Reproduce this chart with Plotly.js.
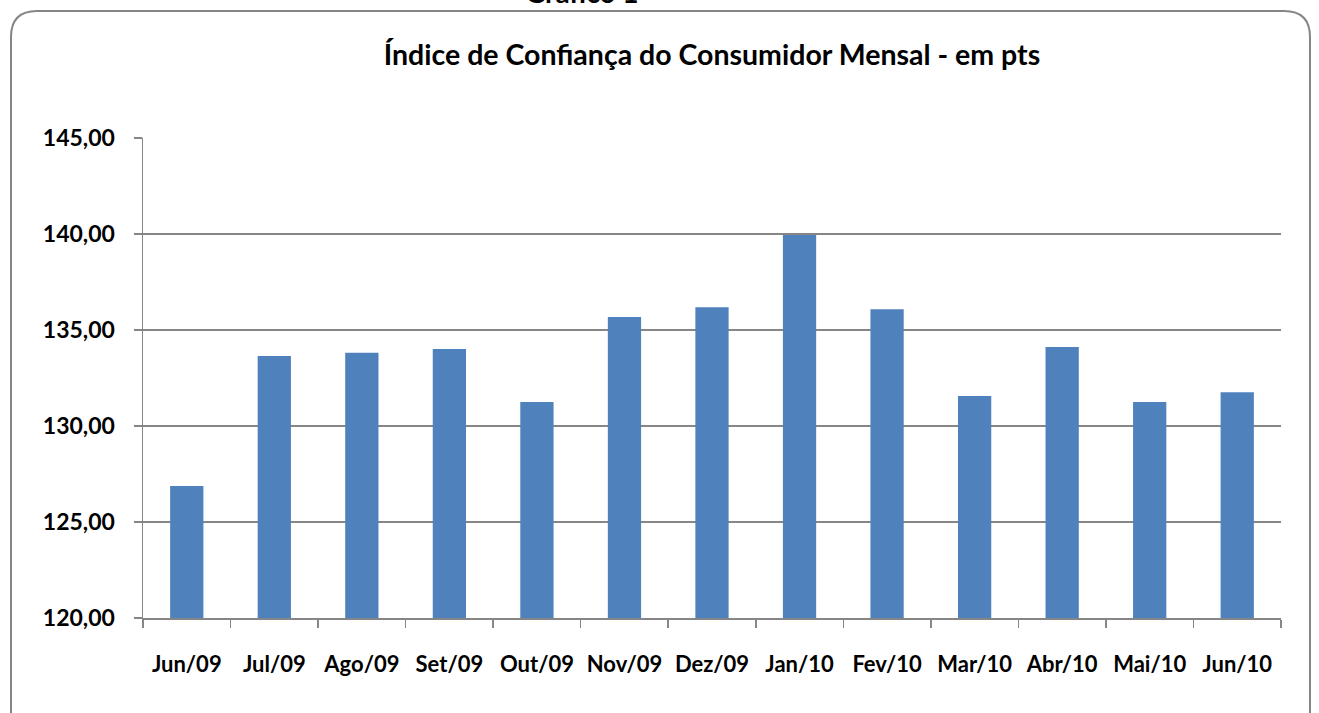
<!DOCTYPE html>
<html>
<head>
<meta charset="utf-8">
<script src="https://cdn.plot.ly/plotly-3.0.1.min.js"></script>
<style>html,body{margin:0;padding:0;background:#fff;}#chart{width:1319px;height:713px;}</style>
</head>
<body>
<div id="chart"></div>
<script>
const months = ["Jun/09","Jul/09","Ago/09","Set/09","Out/09","Nov/09","Dez/09","Jan/10","Fev/10","Mar/10","Abr/10","Mai/10","Jun/10"];
const icc = [126.88, 133.65, 133.82, 134.01, 131.25, 135.68, 136.18, 139.95, 136.08, 131.56, 134.11, 131.25, 131.76];
const yTicks = [120, 125, 130, 135, 140, 145];

// plot area geometry in pixels (for converting the frame to paper coords)
const L = 143, R = 1281, T = 138, B = 618;
const px = x => (x - L) / (R - L);
const py = y => (B - y) / (B - T);
const rad = 26;
const fx0 = 11, fx1 = 1310, fy0 = 11, fy1 = 760;
const framePath = `M ${px(fx0)},${py(fy1)} L ${px(fx0)},${py(fy0+rad)} Q ${px(fx0)},${py(fy0)} ${px(fx0+rad)},${py(fy0)} L ${px(fx1-rad)},${py(fy0)} Q ${px(fx1)},${py(fy0)} ${px(fx1)},${py(fy0+rad)} L ${px(fx1)},${py(fy1)}`;

const font = "Lato, 'Open Sans', sans-serif";

Plotly.newPlot('chart', [{
  type: 'bar',
  x: months,
  y: icc,
  marker: {color: '#4F81BD', line: {width: 0}},
  hoverinfo: 'x+y'
}], {
  width: 1319, height: 713,
  margin: {l: L, r: 1319 - R, t: T, b: 713 - B, pad: 0},
  paper_bgcolor: '#fff', plot_bgcolor: '#fff',
  separators: ',.',
  bargap: 0.62,
  showlegend: false,
  font: {family: font, color: '#000'},
  title: {
    text: '<b>Índice de Confiança do Consumidor Mensal - em pts</b>',
    font: {family: font, size: 28.5, color: '#000'},
    x: 0.5, xref: 'paper', xanchor: 'center',
    y: 1 - 55 / 713, yref: 'container', yanchor: 'middle'
  },
  xaxis: {
    type: 'category',
    tickson: 'boundaries',
    ticks: 'outside', ticklen: 8, tickwidth: 1.5, tickcolor: '#868686',
    showline: true, linecolor: '#868686', linewidth: 1.5,
    showgrid: false, zeroline: false,
    tickfont: {family: font, size: 22, color: '#000', weight: 'bold'},
    ticklabelstandoff: 26
  },
  yaxis: {
    range: [120, 145],
    tickvals: yTicks,
    tickformat: '.2f',
    ticks: 'outside', ticklen: 8, tickwidth: 1.5, tickcolor: '#868686',
    showline: true, linecolor: '#868686', linewidth: 1.5,
    showgrid: true, gridcolor: '#868686', gridwidth: 1.5,
    zeroline: false,
    tickfont: {family: font, size: 23, color: '#000', weight: 'bold'},
    ticklabelstandoff: 14
  },
  shapes: [{
    type: 'path', xref: 'paper', yref: 'paper',
    path: framePath,
    line: {color: '#868686', width: 2}, fillcolor: 'rgba(0,0,0,0)', layer: 'below'
  }],
  annotations: [{
    text: '<b>Gráfico 1</b>',
    xref: 'paper', yref: 'paper',
    x: px(582), y: py(11), xanchor: 'center', yanchor: 'bottom',
    showarrow: false,
    font: {family: font, size: 28, color: '#000'}
  }]
}, {displayModeBar: false, staticPlot: true});
</script>
</body>
</html>
